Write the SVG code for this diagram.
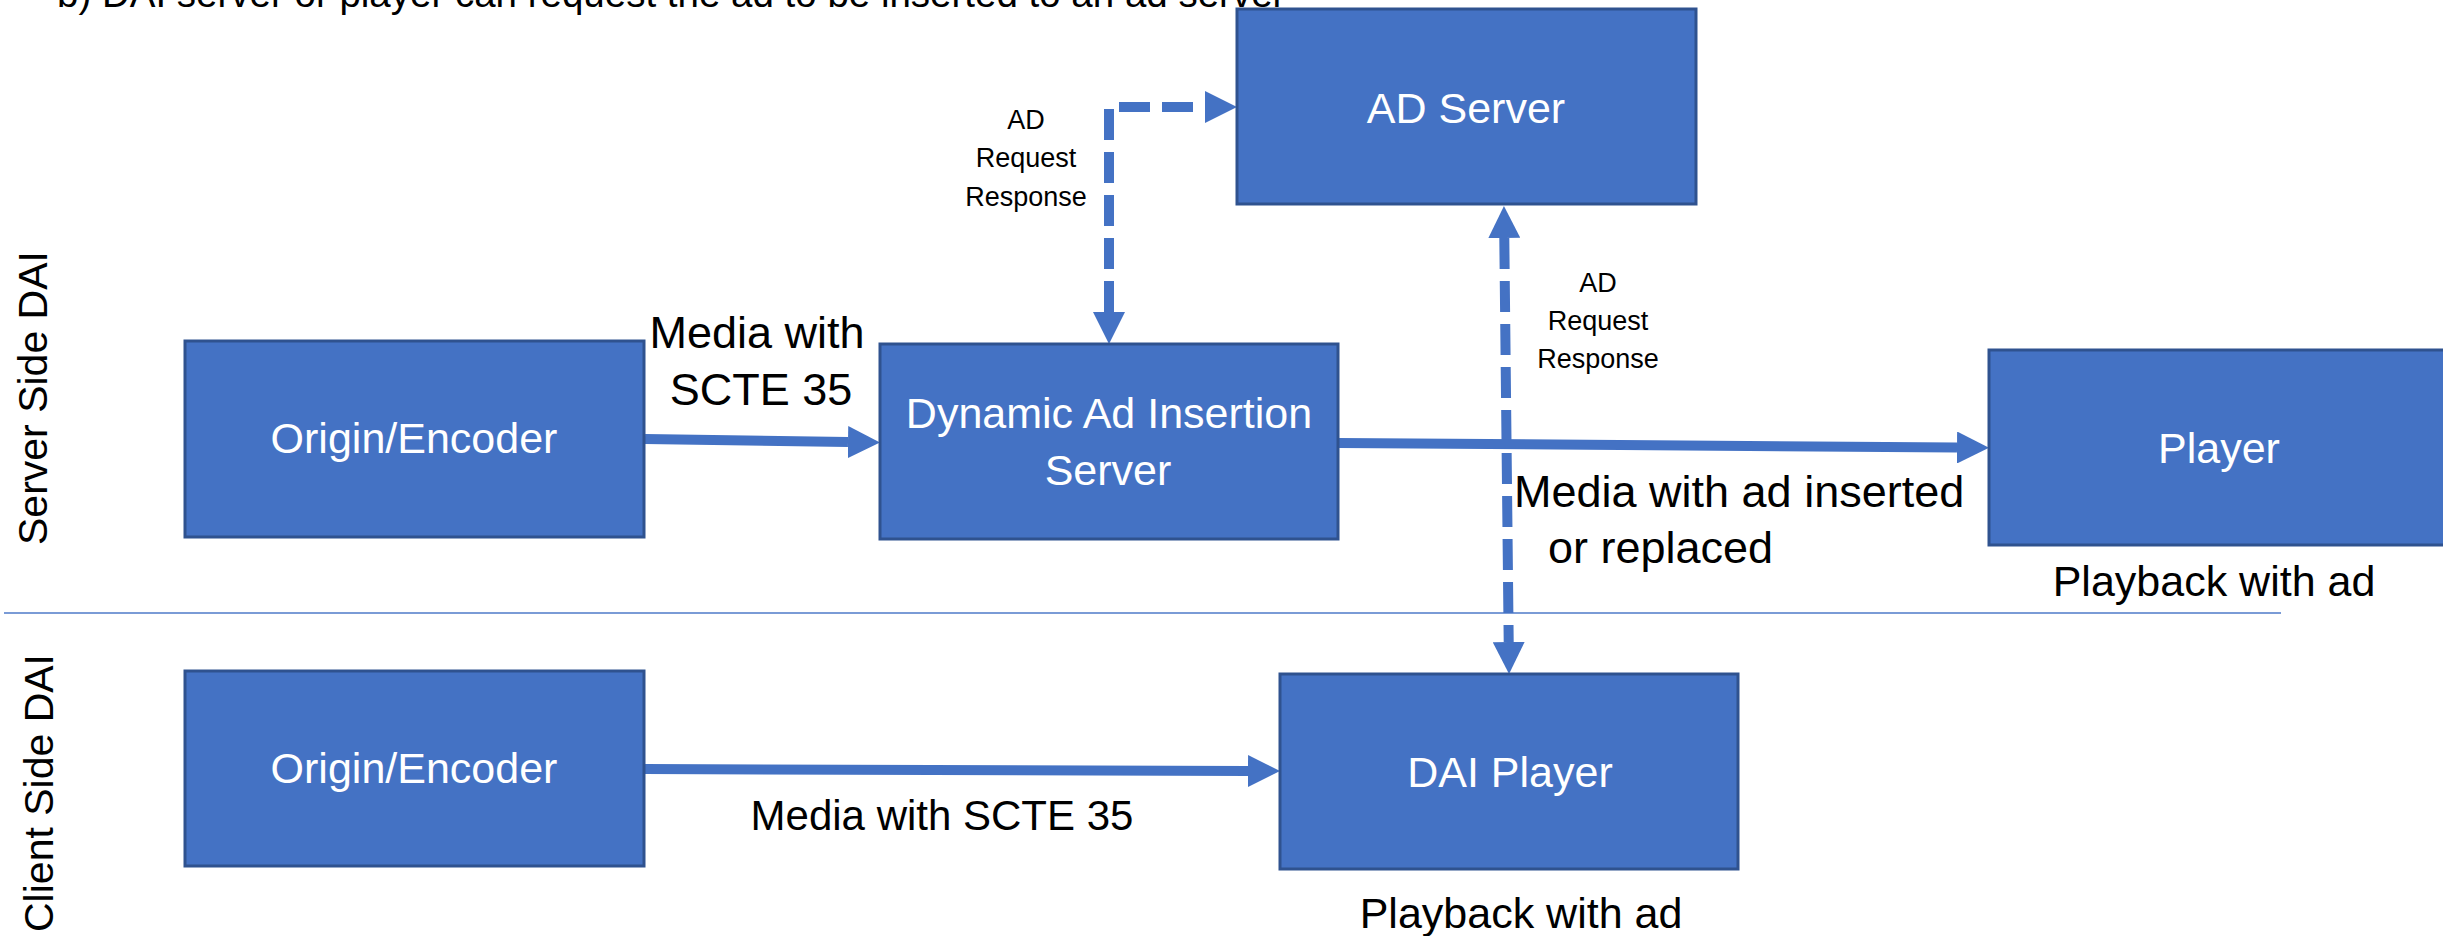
<svg xmlns="http://www.w3.org/2000/svg" width="2443" height="936" viewBox="0 0 2443 936">
<style>
text{font-family:"Liberation Sans",Arial,sans-serif}
.box{fill:#4472C4;stroke:#2F528F;stroke-width:3}
.bt{fill:#fff;font-size:43px;text-anchor:middle}
.lb{fill:#000;font-size:45px}
.sm{fill:#000;font-size:27px;text-anchor:middle}
.side{fill:#000;font-size:41px}
.conn{fill:none;stroke:#4472C4;stroke-width:10}
.dash{stroke-dasharray:31 12}
</style>
<defs>
<marker id="ah" markerUnits="userSpaceOnUse" markerWidth="32" markerHeight="32" refX="0" refY="16" orient="auto-start-reverse" viewBox="0 0 32 32">
<path d="M0,0 L32,16 L0,32 z" fill="#4472C4"/>
</marker>
</defs>
<rect width="2443" height="936" fill="#fff"/>
<text x="57" y="7" style="font-size:38.5px" fill="#000">b) DAI server or player can request the ad to be inserted to an ad server</text>
<line x1="4" y1="613" x2="2281" y2="613" stroke="#7A9BD6" stroke-width="2"/>
<text class="side" transform="translate(47,545) rotate(-90)">Server Side DAI</text>
<text class="side" transform="translate(53,932) rotate(-90)">Client Side DAI</text>
<g id="connectors">
<path class="conn dash" d="M1109,312 L1109,107 L1205,107" marker-start="url(#ah)" marker-end="url(#ah)"/>
<path class="conn dash" d="M1504.3,238 L1508.7,642" marker-start="url(#ah)" marker-end="url(#ah)"/>
<path class="conn" d="M645,439 L848,442" marker-end="url(#ah)"/>
<path class="conn" d="M1339,443 L1957,447.5" marker-end="url(#ah)"/>
<path class="conn" d="M645,769 L1248,771" marker-end="url(#ah)"/>
</g>
<g id="ad-server">
<rect class="box" x="1237" y="9" width="459" height="195"/>
<text class="bt" x="1466" y="123">AD Server</text>
</g>
<g id="origin-encoder-server">
<rect class="box" x="185" y="341" width="459" height="196"/>
<text class="bt" x="414" y="453">Origin/Encoder</text>
</g>
<g id="dai-server">
<rect class="box" x="880" y="344" width="458" height="195"/>
<text class="bt" x="1109" y="428">Dynamic Ad Insertion</text>
<text class="bt" x="1108" y="485">Server</text>
</g>
<g id="player">
<rect class="box" x="1989" y="350" width="470" height="195"/>
<text class="bt" x="2219" y="463">Player</text>
</g>
<g id="origin-encoder-client">
<rect class="box" x="185" y="671" width="459" height="195"/>
<text class="bt" x="414" y="783">Origin/Encoder</text>
</g>
<g id="dai-player">
<rect class="box" x="1280" y="674" width="458" height="195"/>
<text class="bt" x="1510" y="787">DAI Player</text>
</g>
<g id="labels">
<text class="sm" x="1026" y="129">AD</text>
<text class="sm" x="1026" y="167">Request</text>
<text class="sm" x="1026" y="206">Response</text>
<text class="sm" x="1598" y="292">AD</text>
<text class="sm" x="1598" y="330">Request</text>
<text class="sm" x="1598" y="368">Response</text>
<text class="lb" x="757" y="348" text-anchor="middle">Media with</text>
<text class="lb" x="761" y="405" text-anchor="middle">SCTE 35</text>
<text class="lb" x="1514" y="507">Media with ad inserted</text>
<text class="lb" x="1548" y="563">or replaced</text>
<text class="lb" x="2214" y="596" text-anchor="middle" style="font-size:43px">Playback with ad</text>
<text class="lb" x="942" y="830" text-anchor="middle" style="font-size:42px">Media with SCTE 35</text>
<text class="lb" x="1521" y="928" text-anchor="middle" style="font-size:43px">Playback with ad</text>
</g>
</svg>
